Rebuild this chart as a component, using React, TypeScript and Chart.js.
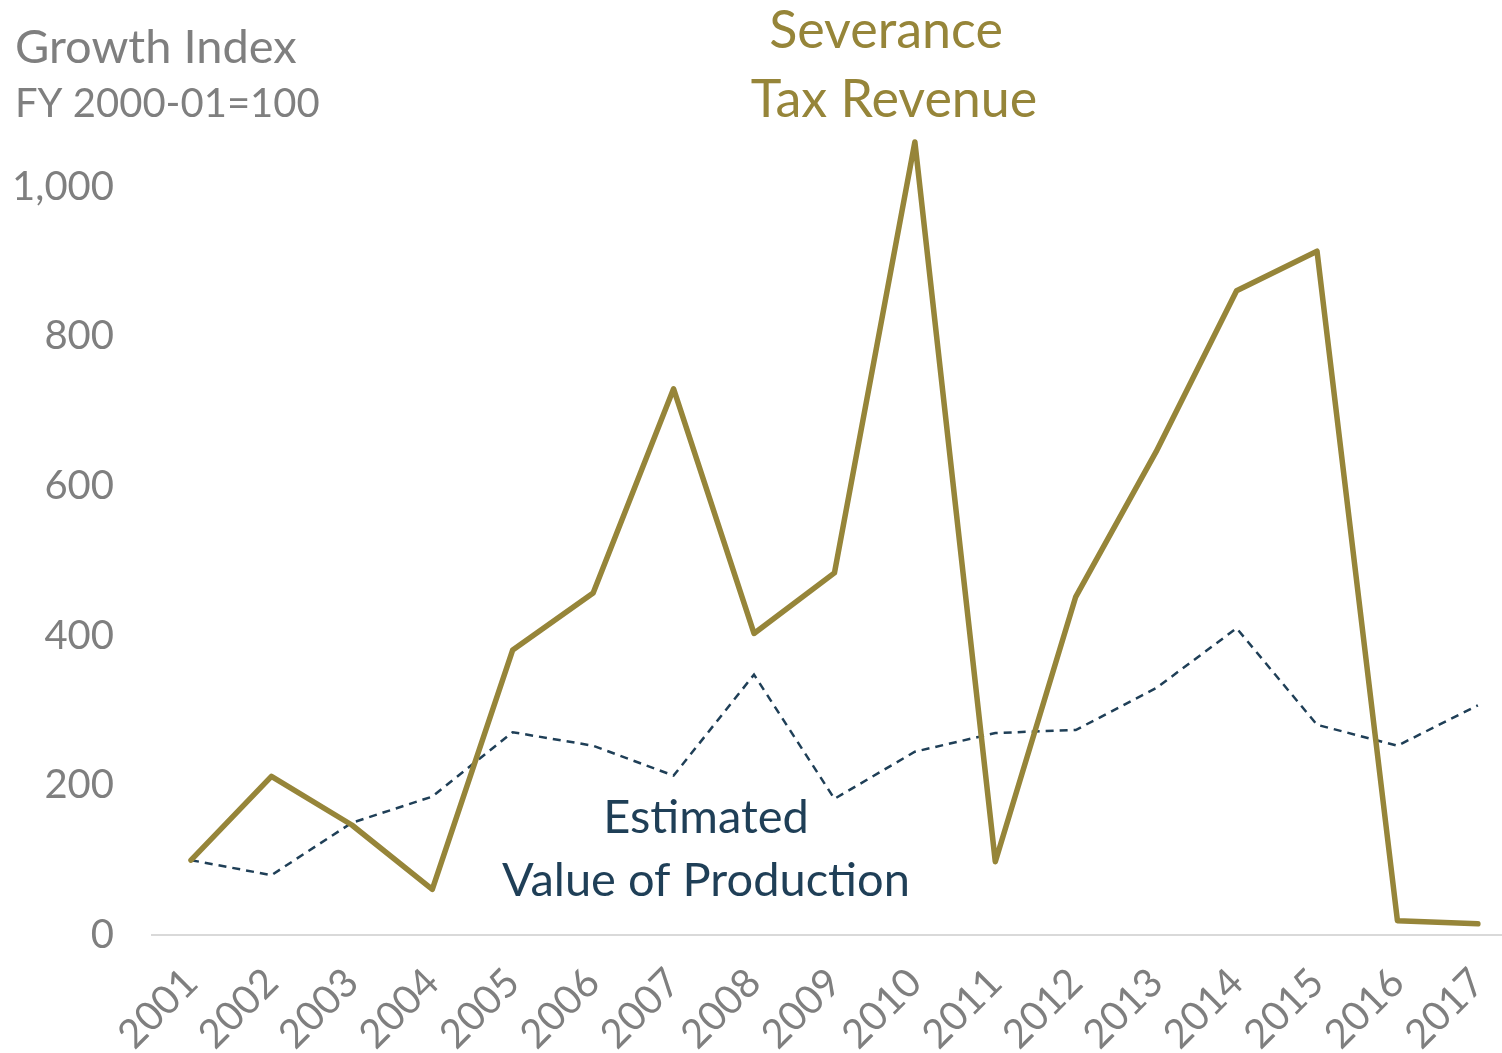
import React, { useEffect, useRef } from "react";
import { Chart, registerables } from "chart.js";

Chart.register(...registerables);

const years = [2001, 2002, 2003, 2004, 2005, 2006, 2007, 2008, 2009, 2010, 2011, 2012, 2013, 2014, 2015, 2016, 2017];
const severanceTax = [100, 212, 147, 61, 381, 457, 730, 403, 484, 1060, 98, 452, 646, 861, 914, 19, 15];
const productionValue = [100, 80, 150, 185, 271, 253, 213, 348, 182, 245, 270, 274, 330, 410, 281, 253, 307];
const yTicks = [0, 200, 400, 600, 800, 1000];

const GOLD = "#968539";
const NAVY = "#1f3f57";
const GREY = "#7f7f7f";
const FONT = "Lato, 'Open Sans', sans-serif";

const W = 1502;
const H = 1053;

const textPlugin = {
  id: "textAnnotations",
  afterDraw(chart: any) {
    const ctx = chart.ctx as CanvasRenderingContext2D;
    ctx.save();
    ctx.textBaseline = "alphabetic";
    ctx.fillStyle = GREY;
    ctx.textAlign = "left";
    ctx.font = `47px ${FONT}`;
    ctx.fillText("Growth Index", 15, 63);
    ctx.font = `40px ${FONT}`;
    ctx.fillText("FY 2000-01=100", 15, 117);

    ctx.textAlign = "center";
    ctx.fillStyle = GOLD;
    ctx.font = `52px ${FONT}`;
    ctx.fillText("Severance", 886, 48);
    ctx.fillText("Tax Revenue", 894, 117);

    ctx.fillStyle = NAVY;
    ctx.font = `47px ${FONT}`;
    ctx.fillText("Estimated", 706, 833);
    ctx.fillText("Value of Production", 706, 896);
    ctx.restore();
  },
};

export default function App() {
  const ref = useRef<HTMLCanvasElement | null>(null);
  useEffect(() => {
    if (!ref.current) return;
    const chart = new Chart(ref.current, {
      type: "line",
      data: {
        datasets: [
          {
            label: "Severance Tax Revenue",
            data: years.map((y, i) => ({ x: y, y: severanceTax[i] })),
            borderColor: GOLD,
            borderWidth: 5.5,
            pointRadius: 0,
            borderCapStyle: "round",
            borderJoinStyle: "round",
            tension: 0,
          },
          {
            label: "Estimated Value of Production",
            data: years.map((y, i) => ({ x: y, y: productionValue[i] })),
            borderColor: NAVY,
            borderWidth: 2.5,
            borderDash: [8, 6],
            pointRadius: 0,
            tension: 0,
          },
        ],
      },
      options: {
        animation: false,
        responsive: false,
        layout: { padding: { top: 112, left: 0, right: 0, bottom: 0 } },
        plugins: { legend: { display: false }, tooltip: { enabled: false } },
        scales: {
          x: {
            type: "linear",
            min: 2000.515,
            max: 2017.3,
            afterBuildTicks: (axis: any) => {
              axis.ticks = years.map((v) => ({ value: v }));
            },
            afterFit: (axis: any) => {
              axis.height = 118;
              axis.paddingLeft = 0;
              axis.paddingRight = 0;
            },
            grid: { display: false, drawTicks: false },
            border: { display: true, color: "#d9d9d9", width: 2 },
            ticks: {
              autoSkip: false,
              maxRotation: 45,
              minRotation: 45,
              padding: 24,
              color: GREY,
              font: { family: FONT, size: 40 },
              callback: (v: any) => String(v),
            },
          },
          y: {
            min: 0,
            max: 1100,
            afterBuildTicks: (axis: any) => {
              axis.ticks = yTicks.map((v) => ({ value: v }));
            },
            afterFit: (axis: any) => {
              axis.width = 152;
              axis.paddingTop = 0;
              axis.paddingBottom = 0;
            },
            grid: { display: false, drawTicks: false },
            border: { display: false },
            ticks: {
              padding: 38,
              color: GREY,
              font: { family: FONT, size: 40 },
              callback: (v: any) => Number(v).toLocaleString("en-US"),
            },
          },
        },
      },
      plugins: [textPlugin],
    });
    return () => chart.destroy();
  }, []);

  return (
    <div style={{ position: "fixed", left: 0, top: 0, width: W, height: H, background: "#fff" }}>
      <canvas ref={ref} width={W} height={H} style={{ width: W, height: H, display: "block" }} />
    </div>
  );
}
